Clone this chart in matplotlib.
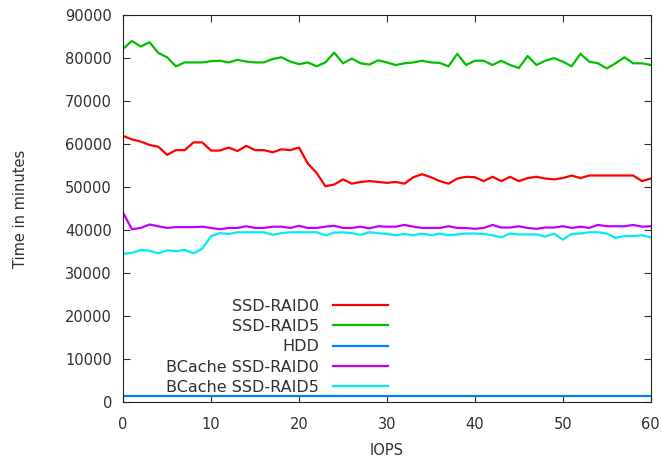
import matplotlib.pyplot as plt
import matplotlib
matplotlib.use('Agg')
matplotlib.rc("font", family='DejaVu Sans', size=10)

iops = list(range(61))

ssd_raid0 = [61900, 61100, 60600, 59800, 59400, 57500, 58600, 58600, 60400, 60400,
             58500, 58500, 59200, 58400, 59600, 58600, 58600, 58100, 58800, 58600,
             59200, 55500, 53300, 50200, 50600, 51800, 50800, 51200, 51400, 51200,
             51000, 51200, 50800, 52300, 53000, 52300, 51400, 50800, 52000, 52400,
             52300, 51400, 52400, 51400, 52400, 51400, 52100, 52400, 52000, 51800,
             52100, 52700, 52100, 52700, 52700, 52700, 52700, 52700, 52700, 51400,
             52000]

ssd_raid5 = [82200, 84000, 82700, 83700, 81200, 80200, 78100, 79000, 79000, 79000,
             79300, 79400, 79000, 79600, 79200, 79000, 79000, 79800, 80200, 79200,
             78600, 79000, 78100, 79000, 81300, 78800, 79900, 78800, 78500, 79500,
             79000, 78400, 78800, 79000, 79400, 79000, 78900, 78100, 81000, 78400,
             79400, 79400, 78400, 79400, 78400, 77700, 80500, 78400, 79400, 80000,
             79200, 78100, 81000, 79200, 78800, 77600, 78800, 80200, 78800, 78800,
             78400]

hdd = [1500] * 61

bcache_raid0 = [44000, 40200, 40500, 41300, 40900, 40500, 40700, 40700, 40700, 40800,
                40500, 40200, 40500, 40500, 40900, 40500, 40500, 40800, 40800, 40500,
                41000, 40500, 40500, 40800, 41000, 40500, 40500, 40800, 40400, 40900,
                40800, 40800, 41200, 40800, 40500, 40500, 40500, 40900, 40500, 40500,
                40300, 40500, 41200, 40600, 40600, 40900, 40500, 40300, 40600, 40600,
                40900, 40500, 40800, 40500, 41200, 40900, 40900, 40900, 41200, 40800,
                40900]

bcache_raid5 = [34500, 34700, 35400, 35200, 34600, 35300, 35100, 35400, 34600, 35700,
                38600, 39300, 39100, 39500, 39500, 39500, 39500, 38900, 39300, 39500,
                39500, 39500, 39500, 38800, 39400, 39500, 39300, 38900, 39500, 39300,
                39100, 38800, 39100, 38800, 39200, 38800, 39200, 38800, 39000, 39200,
                39200, 39100, 38800, 38300, 39200, 39000, 39000, 39000, 38500, 39200,
                37800, 39100, 39200, 39500, 39500, 39200, 38200, 38600, 38600, 38800,
                38300]

names = ['SSD-RAID0', 'SSD-RAID5', 'HDD', 'BCache SSD-RAID0', 'BCache SSD-RAID5']
colors = ['#ff0000', '#00c000', '#0080ff', '#c000ff', '#00eeee']
txt = '#303030'

fig = plt.figure(figsize=(6.62, 4.59), dpi=100)
ax = fig.add_axes([0.186, 0.124, 0.797, 0.843])

for y, name, c in zip([ssd_raid0, ssd_raid5, hdd, bcache_raid0, bcache_raid5], names, colors):
    ax.plot(iops, y, color=c, lw=1.6, label=name)

ax.set_xlim(0, 60)
ax.set_ylim(0, 90000)
ax.set_xticks(range(0, 61, 10))
ax.set_yticks(range(0, 90001, 10000))
ax.tick_params(direction='in', top=True, right=True, length=5, colors=txt, labelsize=10.5)
ax.tick_params(axis='x', pad=11)
ax.tick_params(axis='y', pad=8)
for s in ax.spines.values():
    s.set_color('#222222')
ax.set_xlabel('IOPS', color=txt, fontsize=10.5, labelpad=8)
ax.set_ylabel('Time in minutes', color=txt, fontsize=10.5, labelpad=27)

# legend: label text first, sample line after it
leg = ax.legend(loc='lower right', bbox_to_anchor=(0.515, 0.0), frameon=False,
                markerfirst=False, handlelength=3.4, labelspacing=0.33,
                handletextpad=0.9, borderaxespad=0.05, fontsize=11.5)
for t in leg.get_texts():
    t.set_color(txt)

fig.savefig('out.png', dpi=100)
